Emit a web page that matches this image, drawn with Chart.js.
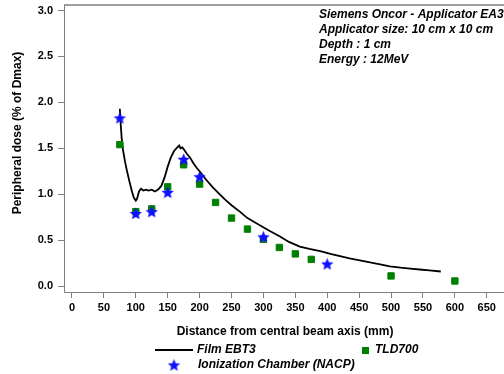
<!DOCTYPE html>
<html>
<head>
<meta charset="utf-8">
<script src="https://cdn.jsdelivr.net/npm/chart.js@4"></script>
<style>
  html, body { margin: 0; padding: 0; background: #fff; }
  #wrap { position: relative; width: 504px; height: 374px; }
</style>
</head>
<body>
<div id="wrap"><canvas id="doseChart" width="504" height="374"></canvas></div>
<script>
// Film EBT3 profile
const filmX = [75, 76, 78, 80, 83, 86, 90, 94, 97, 100, 102, 105, 108, 112, 116, 120, 125, 130, 135, 140,
  145, 150, 155, 160, 165, 168, 170, 173, 176, 180, 185, 190, 195, 200, 210, 220, 230, 240, 250, 263,
  275, 285, 295, 310, 326, 340, 357, 372, 389, 405, 420, 435, 451, 465, 483, 498, 515, 530, 545, 560, 578];
const filmY = [1.93, 1.80, 1.60, 1.48, 1.36, 1.26, 1.14, 1.03, 0.96, 0.93, 0.95, 1.03, 1.06, 1.04, 1.05, 1.04, 1.05, 1.03, 1.05, 1.09,
  1.18, 1.30, 1.40, 1.47, 1.51, 1.53, 1.50, 1.51, 1.48, 1.44, 1.40, 1.34, 1.29, 1.25, 1.16, 1.08, 1.01, 0.94, 0.88, 0.81,
  0.74, 0.70, 0.66, 0.60, 0.54, 0.48, 0.43, 0.405, 0.38, 0.35, 0.325, 0.30, 0.28, 0.26, 0.235, 0.215, 0.20, 0.19, 0.18, 0.17, 0.158];

// Ionization chamber (NACP)
const nacpX = [75, 100, 125, 150, 175, 200, 300, 400];
const nacpY = [1.83, 0.79, 0.81, 1.02, 1.38, 1.19, 0.535, 0.24];

// TLD700
const tldX = [75, 100, 125, 150, 175, 200, 225, 250, 275, 300, 325, 350, 375, 500, 600];
const tldY = [1.54, 0.81, 0.84, 1.08, 1.32, 1.11, 0.91, 0.74, 0.62, 0.51, 0.42, 0.35, 0.29, 0.11, 0.055];

const xTicks = [0, 50, 100, 150, 200, 250, 300, 350, 400, 450, 500, 550, 600, 650];
const yTicks = [0, 0.5, 1.0, 1.5, 2.0, 2.5, 3.0];

const infoLines = ['Siemens Oncor - Applicator EA3', 'Applicator size: 10 cm x 10 cm', 'Depth : 1 cm', 'Energy : 12MeV'];

const FONT = "'Liberation Sans', Arial, sans-serif";
const AXIS_GRAY = '#7f7f7f';

function toPoints(xs, ys) {
    return xs.map((x, i) => ({ x: x, y: ys[i] }));
}

// filled 5 point star for the chamber marker
function makeStar(size, color) {
    const c = document.createElement('canvas');
    c.width = size; c.height = size;
    const g = c.getContext('2d');
    const cx = size / 2, cy = size / 2 + 0.5;
    const outer = size / 2, inner = outer * 0.45;
    g.beginPath();
    for (let i = 0; i < 10; i++) {
        const r = i % 2 === 0 ? outer : inner;
        const a = -Math.PI / 2 + i * Math.PI / 5;
        const px = cx + r * Math.cos(a), py = cy + r * Math.sin(a);
        if (i === 0) g.moveTo(px, py); else g.lineTo(px, py);
    }
    g.closePath();
    g.fillStyle = color;
    g.fill();
    return c;
}
const starImg = makeStar(13, '#1010ff');

// fixed box sizes, no extra label padding
function fixBox(prop, size) {
    return function(scale) {
        scale[prop] = size;
        scale.paddingLeft = 0;
        scale.paddingRight = 0;
        scale.paddingTop = 0;
        scale.paddingBottom = 0;
    };
}

// texts, legend and top frame line
const extras = {
    id: 'extras',
    afterDraw(chart) {
        const ctx = chart.ctx;
        const area = chart.chartArea;
        ctx.save();

        ctx.strokeStyle = AXIS_GRAY;
        ctx.lineWidth = 1.5;
        ctx.beginPath();
        ctx.moveTo(area.left, area.top);
        ctx.lineTo(area.right, area.top);
        ctx.stroke();

        ctx.fillStyle = '#000';
        ctx.textBaseline = 'middle';

        // info block
        ctx.font = 'italic bold 12px ' + FONT;
        ctx.textAlign = 'left';
        infoLines.forEach((t, i) => ctx.fillText(t, 319, 15 + i * 15));

        // axis titles
        ctx.font = 'bold 12px ' + FONT;
        ctx.textAlign = 'center';
        ctx.fillText('Distance from central beam axis (mm)', 285, 332);
        ctx.save();
        ctx.translate(18, 133);
        ctx.rotate(-Math.PI / 2);
        ctx.fillText('Peripheral dose (% of Dmax)', 0, 0);
        ctx.restore();

        // legend
        ctx.font = 'italic bold 12px ' + FONT;
        ctx.textAlign = 'left';
        ctx.strokeStyle = '#000';
        ctx.lineWidth = 2;
        ctx.beginPath();
        ctx.moveTo(155, 350);
        ctx.lineTo(193, 350);
        ctx.stroke();
        ctx.fillText('Film EBT3', 197, 350);

        ctx.fillStyle = '#008000';
        ctx.fillRect(362, 347, 7, 7);
        ctx.fillStyle = '#000';
        ctx.fillText('TLD700', 375, 350);

        ctx.drawImage(starImg, 174 - 6.5, 365 - 6.5);
        ctx.fillText('Ionization Chamber (NACP)', 198, 365);

        ctx.restore();
    }
};

const ctx = document.getElementById('doseChart').getContext('2d');
const doseChart = new Chart(ctx, {
    type: 'scatter',
    data: {
        datasets: [
            {
                label: 'Film EBT3',
                data: toPoints(filmX, filmY),
                showLine: true,
                borderColor: '#000',
                borderWidth: 1.8,
                pointRadius: 0,
                tension: 0,
                order: 3
            },
            {
                label: 'TLD700',
                data: toPoints(tldX, tldY),
                pointStyle: 'rect',
                pointRadius: 4.5,
                backgroundColor: '#008000',
                borderColor: '#008000',
                borderWidth: 1,
                order: 2
            },
            {
                label: 'Ionization Chamber (NACP)',
                data: toPoints(nacpX, nacpY),
                pointStyle: starImg,
                pointRadius: 6,
                order: 1
            }
        ]
    },
    options: {
        responsive: false,
        animation: false,
        devicePixelRatio: 1,
        layout: { autoPadding: false, padding: { top: 5, left: 0, right: 0, bottom: 0 } },
        plugins: {
            legend: { display: false },
            tooltip: { enabled: false }
        },
        scales: {
            x: {
                type: 'linear',
                min: -12.5,
                max: 677,
                afterFit: fixBox('height', 82),
                afterBuildTicks: function(scale) { scale.ticks = xTicks.map(v => ({ value: v })); },
                grid: { drawOnChartArea: false, drawTicks: true, tickLength: 6, color: AXIS_GRAY },
                border: { display: true, color: AXIS_GRAY, width: 1 },
                ticks: {
                    color: '#000',
                    padding: 3,
                    maxRotation: 0,
                    autoSkip: false,
                    font: { family: FONT, size: 11, weight: 'bold' }
                }
            },
            y: {
                type: 'linear',
                min: -0.065,
                max: 3.06,
                afterFit: fixBox('width', 64),
                afterBuildTicks: function(scale) { scale.ticks = yTicks.map(v => ({ value: v })); },
                grid: { drawOnChartArea: false, drawTicks: true, tickLength: 6, color: AXIS_GRAY },
                border: { display: true, color: AXIS_GRAY, width: 1 },
                ticks: {
                    color: '#000',
                    padding: 5,
                    autoSkip: false,
                    callback: v => v.toFixed(1),
                    font: { family: FONT, size: 11, weight: 'bold' }
                }
            }
        }
    },
    plugins: [extras]
});
</script>
</body>
</html>
